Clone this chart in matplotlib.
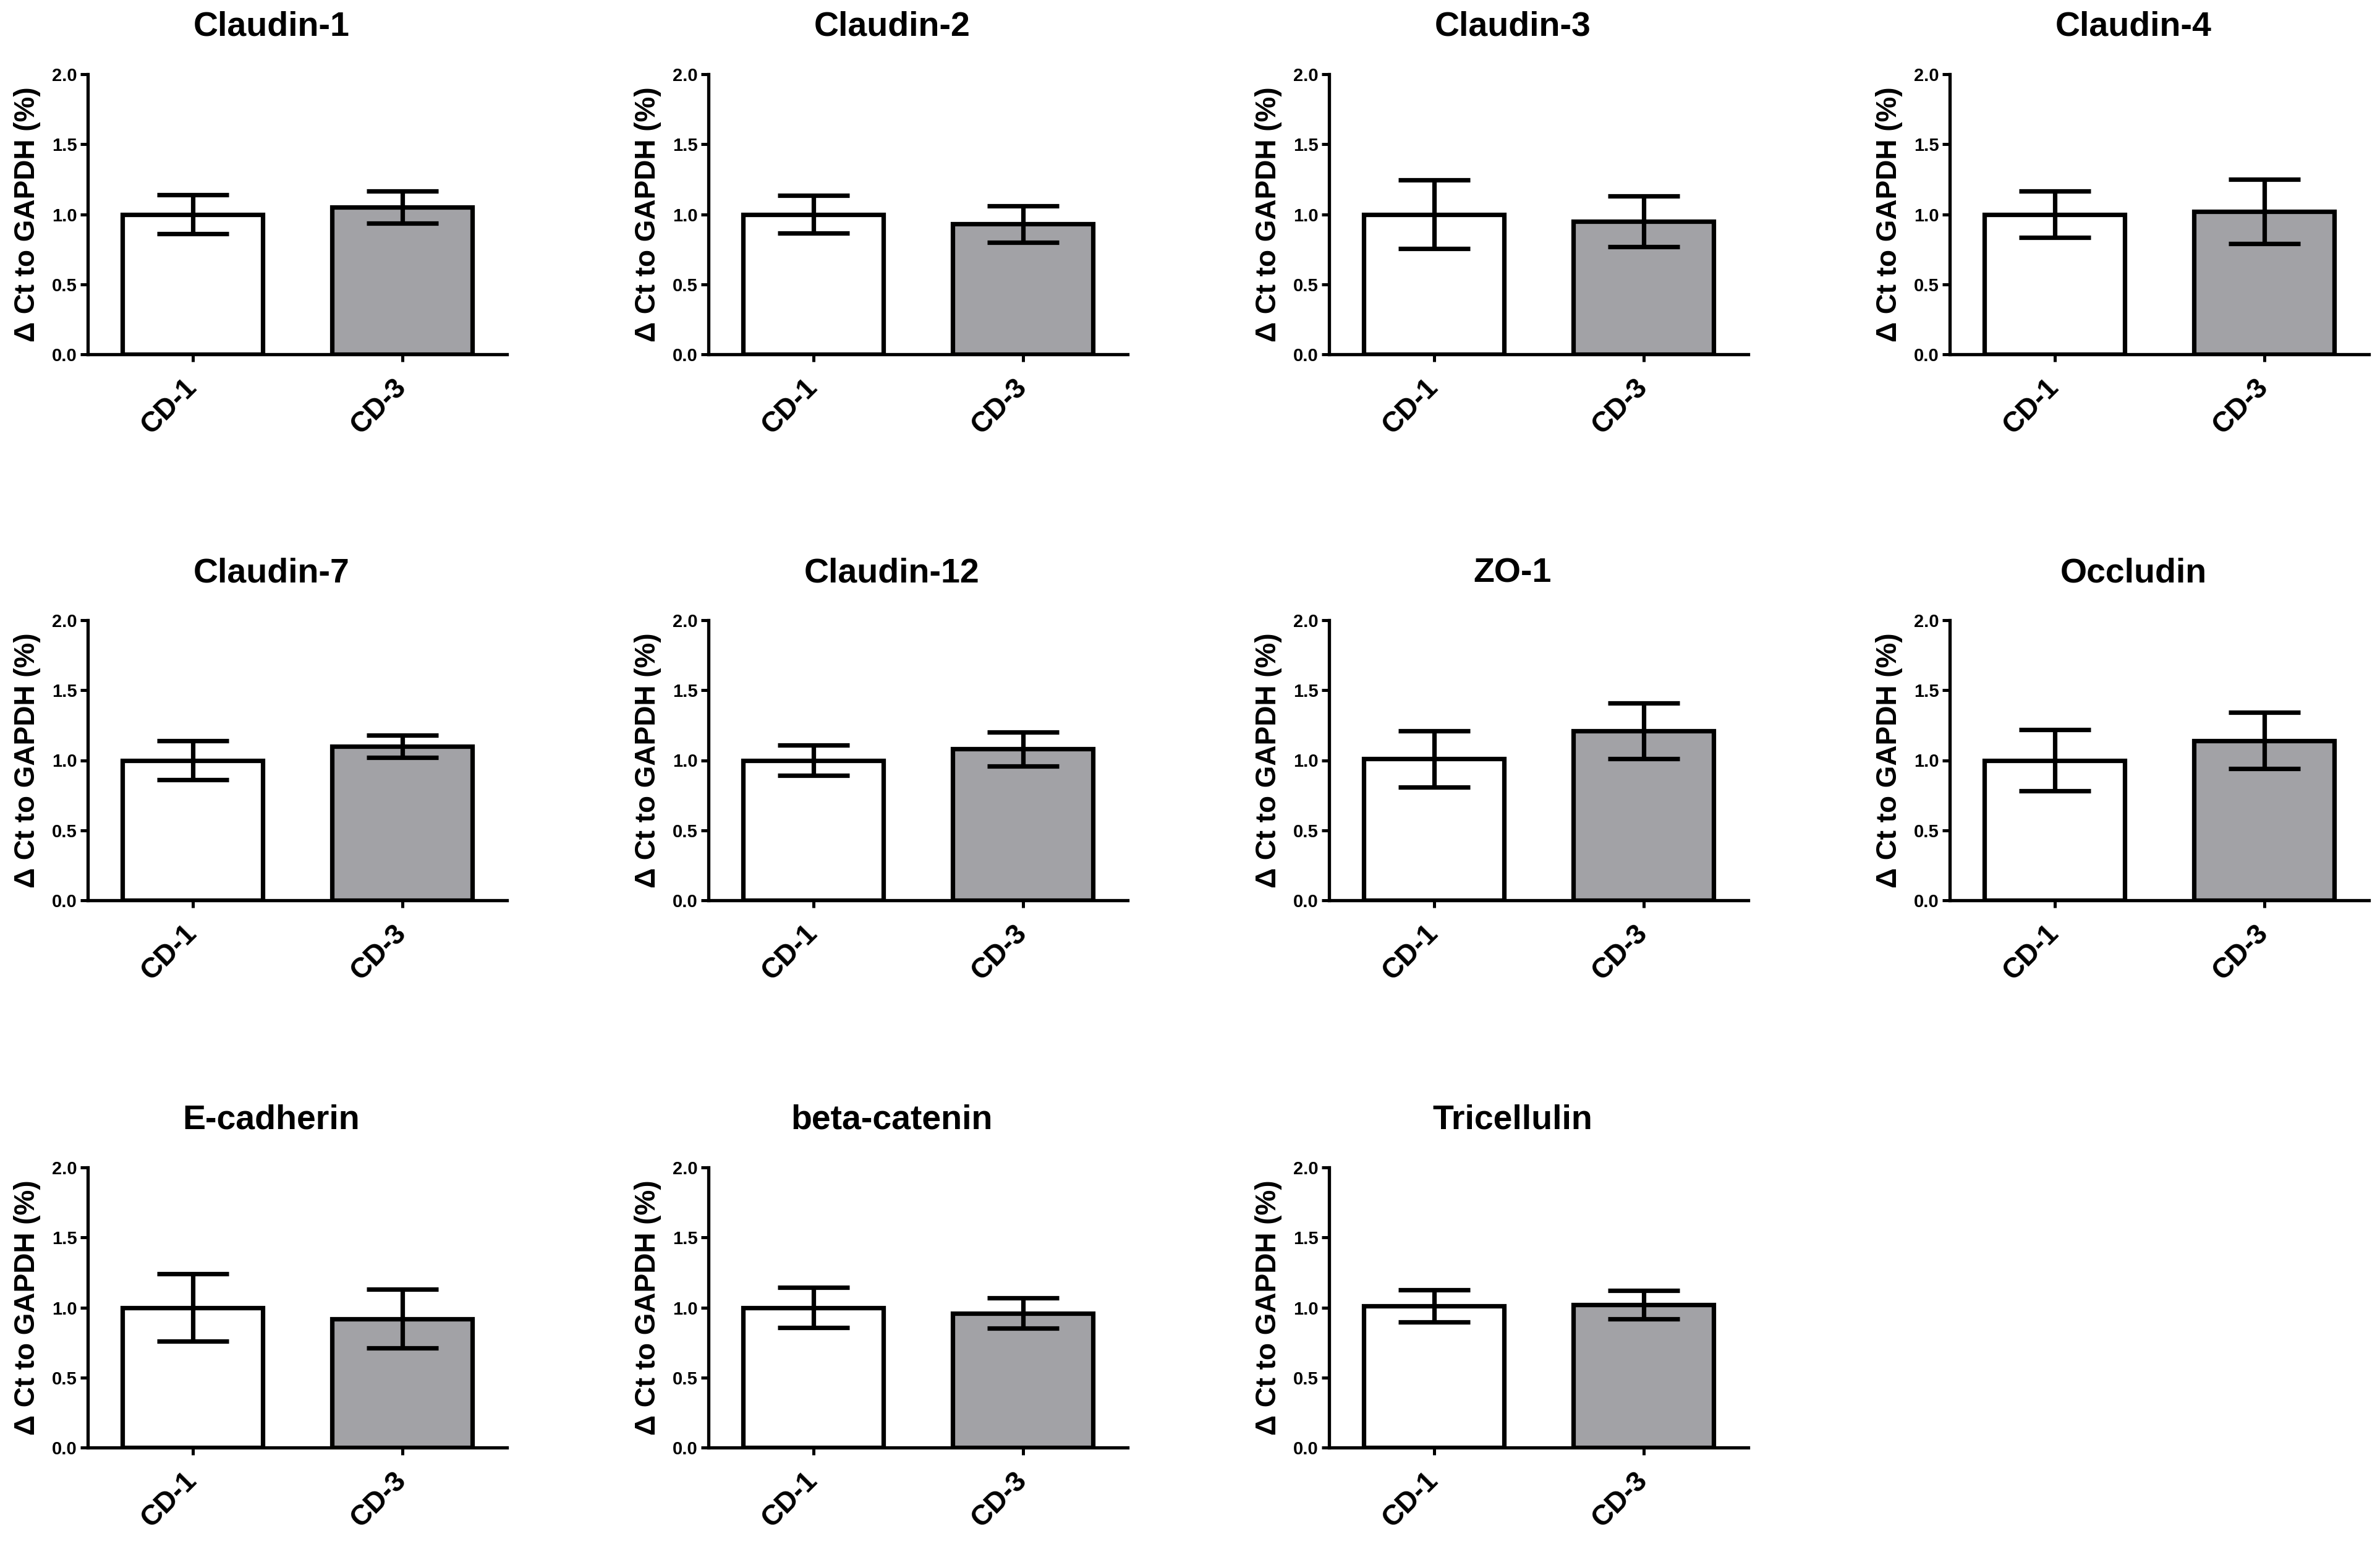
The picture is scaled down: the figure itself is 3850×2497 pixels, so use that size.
import matplotlib
matplotlib.use("Agg")
import matplotlib.pyplot as plt
import numpy as np

plt.rcParams['font.family'] = ['Liberation Sans', 'DejaVu Sans']
plt.rcParams['font.weight'] = 'bold'

# ---------------- data ----------------
groups = ["CD-1", "CD-3"]
titles = ["Claudin-1", "Claudin-2", "Claudin-3", "Claudin-4",
          "Claudin-7", "Claudin-12", "ZO-1", "Occludin",
          "E-cadherin", "beta-catenin", "Tricellulin"]
means = [
    [1.00, 1.05],
    [1.00, 0.93],
    [1.00, 0.95],
    [1.00, 1.02],
    [1.00, 1.10],
    [1.00, 1.08],
    [1.01, 1.21],
    [1.00, 1.14],
    [1.00, 0.92],
    [1.00, 0.96],
    [1.01, 1.02],
]
sems = [
    [0.14, 0.115],
    [0.135, 0.13],
    [0.245, 0.18],
    [0.165, 0.23],
    [0.14, 0.08],
    [0.11, 0.12],
    [0.20, 0.20],
    [0.22, 0.20],
    [0.24, 0.21],
    [0.145, 0.11],
    [0.115, 0.10],
]
yticks = [0.0, 0.5, 1.0, 1.5, 2.0]
ytick_labels = ["0.0", "0.5", "1.0", "1.5", "2.0"]
ylabel = "\u0394 Ct to GAPDH (%)"

# ---------------- layout (pixels) ----------------
W, H = 3850, 2497
fig = plt.figure(figsize=(W / 100, H / 100), dpi=100)
col_left = [142, 1146, 2150, 3154]
row_top = [120, 1003, 1888]
ax_w, ax_h = 678, 453
fills = ["white", "#a2a2a6"]

for i, title in enumerate(titles):
    r, c = divmod(i, 4)
    l = col_left[c] / W
    b = 1 - (row_top[r] + ax_h) / H
    ax = fig.add_axes([l, b, ax_w / W, ax_h / H])
    x = np.arange(len(groups))
    ax.bar(x, means[i], width=0.667, color=fills, edgecolor="black",
           linewidth=5.2, zorder=2)
    ax.errorbar(x, means[i], yerr=sems[i], fmt="none", ecolor="black",
                elinewidth=5.2, capsize=42, capthick=5.2, zorder=3)
    ax.set_xlim(-0.5, 1.5)
    ax.set_ylim(0, 2.0)
    ax.set_yticks(yticks)
    ax.set_yticklabels(ytick_labels, fontsize=21, fontweight="bold")
    ax.set_xticks(x)
    ax.set_xticklabels(groups, fontsize=33, fontweight="bold", rotation=45,
                       ha="right", va="center", rotation_mode="anchor")
    for s in ["top", "right"]:
        ax.spines[s].set_visible(False)
    for s in ["left", "bottom"]:
        ax.spines[s].set_linewidth(3.8)
    ax.tick_params(axis="both", direction="out", length=8.6, width=3.6)
    ax.tick_params(axis="y", pad=4)
    ax.tick_params(axis="x", pad=25)
    ax.set_ylabel(ylabel, fontsize=33, fontweight="bold")
    ax.yaxis.set_label_coords(-0.112, 0.5)
    # title centered slightly left of axes centre
    tx = (col_left[c] + ax_w / 2 - 42) / W
    ty = 1 - (row_top[r] - 62) / H
    fig.text(tx, ty, title, fontsize=40, fontweight="bold",
             ha="center", va="baseline")

fig.savefig("out.png", dpi=100, facecolor="white")
